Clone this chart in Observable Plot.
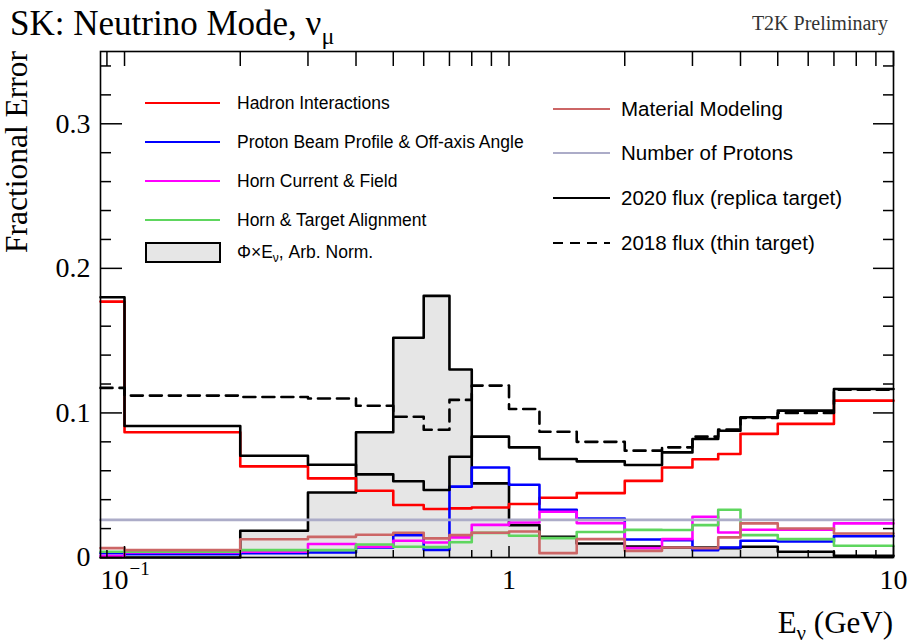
<!DOCTYPE html>
<html>
<head>
<meta charset="utf-8">
<script src="https://cdn.jsdelivr.net/npm/d3@7"></script>
<script src="https://cdn.jsdelivr.net/npm/@observablehq/plot@0.6"></script>
<style>
  html, body { margin: 0; padding: 0; background: #fff; }
  #chart svg { display: block; }
</style>
</head>
<body>
<div id="chart"></div>
<script>
// Neutrino energy bin edges (GeV); the first edge is the left end of the axis
const binEdges = [0.0866, 0.1, 0.2, 0.3, 0.4, 0.5, 0.6, 0.7, 0.8, 1.0, 1.2, 1.5, 2.0, 2.5, 3.0, 3.5, 4.0, 5.0, 7.0, 10.0];

// Fractional error per bin, one array per error source
const hadronInteractions = [0.177, 0.0866, 0.063, 0.0547, 0.0462, 0.0363, 0.0335, 0.034, 0.0346, 0.037, 0.0413, 0.0445, 0.053, 0.0623, 0.068, 0.0716, 0.0855, 0.0924, 0.1085];
const protonBeamProfile = [0.003, 0.0023, 0.003, 0.0035, 0.007, 0.0155, 0.0053, 0.049, 0.0623, 0.0503, 0.033, 0.027, 0.0125, 0.012, 0.0051, 0.0069, 0.0116, 0.0111, 0.0148];
const hornCurrentField = [0.001, 0.0035, 0.004, 0.0093, 0.0074, 0.0116, 0.0104, 0.0139, 0.0226, 0.0242, 0.0316, 0.0238, 0.0065, 0.0127, 0.0282, 0.0173, 0.0192, 0.0192, 0.0236];
const hornTargetAlignment = [0.004, 0.004, 0.0051, 0.0051, 0.009, 0.0074, 0.0072, 0.0105, 0.017, 0.015, 0.0134, 0.0176, 0.0191, 0.019, 0.0224, 0.033, 0.0155, 0.0127, 0.0081];
const materialModeling = [0.0065, 0.0051, 0.0126, 0.0143, 0.0157, 0.0171, 0.0132, 0.0155, 0.0171, 0.018, 0.003, 0.0127, 0.0046, 0.0069, 0.0065, 0.0139, 0.0236, 0.0201, 0.0166];
const numberOfProtons = [0.026, 0.026, 0.026, 0.026, 0.026, 0.026, 0.026, 0.026, 0.026, 0.026, 0.026, 0.026, 0.026, 0.026, 0.026, 0.026, 0.026, 0.026, 0.026];
const total2020 = [0.180, 0.091, 0.0704, 0.0642, 0.0575, 0.0527, 0.0467, 0.0697, 0.0836, 0.0762, 0.0681, 0.0665, 0.064, 0.0727, 0.082, 0.0877, 0.097, 0.1016, 0.1166];
const total2018 = [0.1173, 0.112, 0.111, 0.110, 0.105, 0.0974, 0.0884, 0.109, 0.1189, 0.1027, 0.087, 0.080, 0.0739, 0.0762, 0.0836, 0.0885, 0.0965, 0.100, 0.116];
// Flux times energy, arbitrary normalisation
const fluxTimesEnergy = [0, 0, 0.0185, 0.045, 0.0866, 0.152, 0.181, 0.130, 0.0513, 0.0224, 0.0143, 0.0097, 0.0076, 0.0069, 0.0069, 0.0065, 0.0074, 0.004, 0.0012];

// Axis ticks and labels
const yMajorTicks = [0, 0.1, 0.2, 0.3];
const yMinorTicks = [0.02, 0.04, 0.06, 0.08, 0.12, 0.14, 0.16, 0.18, 0.22, 0.24, 0.26, 0.28, 0.32, 0.34];
const yTickLabels = ["0", "0.1", "0.2", "0.3"];
const xMajorTicks = [0.1, 1, 10];
const xMinorTicks = [0.09, 0.2, 0.3, 0.4, 0.5, 0.6, 0.7, 0.8, 0.9, 2, 3, 4, 5, 6, 7, 8, 9];
const xTickBases = ["10", "1", "10"];
const xTickExponents = ["\u22121", "", ""];

const width = 913, height = 644;
const margin = {top: 51, right: 20, bottom: 87, left: 100};
const frameW = width - margin.left - margin.right;
const frameH = height - margin.top - margin.bottom;

// Histogram outline: one point per bin edge, the last bin's value repeated at the end
const stepPoints = (values) =>
  binEdges.map((e, i) => ({x: e, y: values[Math.min(i, values.length - 1)]}));

const errorSources = [
  {values: hadronInteractions, stroke: "#ff0000"},
  {values: protonBeamProfile, stroke: "#0000ff"},
  {values: hornCurrentField, stroke: "#ff00ff"},
  {values: hornTargetAlignment, stroke: "#5ed65e"},
  {values: materialModeling, stroke: "#cc6666"},
  {values: numberOfProtons, stroke: "#acacc8"}
];

const serif = "'Liberation Serif', 'Times New Roman', serif";
const sans = "'Liberation Sans', Arial, sans-serif";

// x tick labels: a base, plus an exponent where the label is a power of ten
const xLabelRows = xMajorTicks.map((v, i) => ({value: v, base: xTickBases[i], exponent: xTickExponents[i]}));
const plainLabels = xLabelRows.filter(d => !d.exponent);
const powerLabels = xLabelRows.filter(d => d.exponent);

const chart = Plot.plot({
  width, height,
  marginTop: margin.top, marginRight: margin.right,
  marginBottom: margin.bottom, marginLeft: margin.left,
  style: {fontFamily: serif, background: "#fff", color: "#000"},
  x: {type: "log", domain: [binEdges[0], 10], axis: null},
  y: {domain: [0, 0.35], axis: null},
  marks: [
    Plot.areaY(stepPoints(fluxTimesEnergy), {x: "x", y: "y", curve: "step-after", fill: "#e6e6e6"}),
    Plot.line(stepPoints(fluxTimesEnergy), {x: "x", y: "y", curve: "step-after", stroke: "#000", strokeWidth: 2.6}),
    ...errorSources.map(s =>
      Plot.line(stepPoints(s.values), {x: "x", y: "y", curve: "step-after", stroke: s.stroke, strokeWidth: 2.6})
    ),
    Plot.line(stepPoints(total2020), {x: "x", y: "y", curve: "step-after", stroke: "#000", strokeWidth: 2.6}),
    Plot.line(stepPoints(total2018), {x: "x", y: "y", curve: "step-after", stroke: "#000", strokeWidth: 2.6, strokeDasharray: "12,7"}),
    // ticks drawn inside the frame on all four sides
    Plot.tickY(yMajorTicks, {y: d => d, insetRight: frameW - 22, stroke: "#000", strokeWidth: 1.5}),
    Plot.tickY(yMinorTicks, {y: d => d, insetRight: frameW - 11, stroke: "#000", strokeWidth: 1.5}),
    Plot.tickY(yMajorTicks, {y: d => d, insetLeft: frameW - 20, stroke: "#000", strokeWidth: 1.5}),
    Plot.tickY(yMinorTicks, {y: d => d, insetLeft: frameW - 10, stroke: "#000", strokeWidth: 1.5}),
    Plot.tickX(xMajorTicks, {x: d => d, insetTop: frameH - 11, stroke: "#000", strokeWidth: 1.5}),
    Plot.tickX(xMinorTicks, {x: d => d, insetTop: frameH - 7, stroke: "#000", strokeWidth: 1.5}),
    Plot.tickX([...xMajorTicks, ...xMinorTicks], {x: d => d, insetBottom: frameH - 15, stroke: "#000", strokeWidth: 1.5}),
    Plot.frame({stroke: "#000", strokeWidth: 1.6}),
    // tick labels
    Plot.text(yMajorTicks, {y: d => d, text: (d, i) => yTickLabels[i], frameAnchor: "left", textAnchor: "end", dx: -10, fontSize: 28, fill: "#000"}),
    Plot.text(plainLabels, {x: "value", text: "base", frameAnchor: "bottom", textAnchor: "middle", dy: 31, fontSize: 28, fill: "#000"}),
    Plot.text(powerLabels, {x: "value", text: "base", frameAnchor: "bottom", textAnchor: "end", dx: 4, dy: 31, fontSize: 28, fill: "#000"}),
    Plot.text(powerLabels, {x: "value", text: "exponent", frameAnchor: "bottom", textAnchor: "start", dx: 5, dy: 17, fontSize: 19, fill: "#000"})
  ]
});

const svg = d3.select(chart);

// Titles
const title = svg.append("text").attr("x", 10).attr("y", 35).attr("text-anchor", "start")
  .attr("font-family", serif).attr("font-size", 35);
title.append("tspan").text("SK: Neutrino Mode, \u03bd");
title.append("tspan").attr("dy", 9).attr("font-size", 24).text("\u03bc");

svg.append("text").attr("x", 888).attr("y", 30).attr("text-anchor", "end")
  .attr("font-family", serif).attr("font-size", 20).attr("fill", "#333")
  .text("T2K Preliminary");

svg.append("text")
  .attr("transform", `translate(27, ${margin.top}) rotate(-90)`)
  .attr("text-anchor", "end")
  .attr("font-family", serif).attr("font-size", 31.5)
  .text("Fractional Error");

const xl = svg.append("text").attr("x", width - margin.right).attr("y", 633)
  .attr("text-anchor", "end").attr("font-family", serif).attr("font-size", 31);
xl.append("tspan").text("E");
xl.append("tspan").attr("dy", 7).attr("font-size", 21).text("\u03bd");
xl.append("tspan").attr("dy", -7).text(" (GeV)");

// Legend
const legend = svg.append("g").attr("font-family", sans).attr("text-anchor", "start");
const leftEntries = [
  {label: "Hadron Interactions", stroke: "#ff0000", y: 103},
  {label: "Proton Beam Profile & Off-axis Angle", stroke: "#0000ff", y: 142},
  {label: "Horn Current & Field", stroke: "#ff00ff", y: 181},
  {label: "Horn & Target Alignment", stroke: "#5ed65e", y: 220}
];
leftEntries.forEach(e => {
  legend.append("line").attr("x1", 145).attr("x2", 220).attr("y1", e.y).attr("y2", e.y)
    .attr("stroke", e.stroke).attr("stroke-width", 2);
  legend.append("text").attr("x", 237).attr("y", e.y).attr("dy", "0.36em")
    .attr("text-anchor", "start").attr("font-size", 17.5).text(e.label);
});
legend.append("rect").attr("x", 146).attr("y", 243).attr("width", 74).attr("height", 19)
  .attr("fill", "#e6e6e6").attr("stroke", "#000").attr("stroke-width", 2);
const fl = legend.append("text").attr("x", 237).attr("y", 252).attr("dy", "0.36em")
  .attr("text-anchor", "start").attr("font-size", 17.5);
fl.append("tspan").text("\u03a6\u00d7E");
fl.append("tspan").attr("dy", 4).attr("font-size", 12).text("\u03bd");
fl.append("tspan").attr("dy", -4).text(", Arb. Norm.");

const rightEntries = [
  {label: "Material Modeling", stroke: "#cc6666", y: 109},
  {label: "Number of Protons", stroke: "#acacc8", y: 153},
  {label: "2020 flux (replica target)", stroke: "#000", y: 198},
  {label: "2018 flux (thin target)", stroke: "#000", y: 243, dash: "10,7"}
];
rightEntries.forEach(e => {
  legend.append("line").attr("x1", 553).attr("x2", 610).attr("y1", e.y).attr("y2", e.y)
    .attr("stroke", e.stroke).attr("stroke-width", 2)
    .attr("stroke-dasharray", e.dash || null);
  legend.append("text").attr("x", 621).attr("y", e.y).attr("dy", "0.36em")
    .attr("text-anchor", "start").attr("font-size", 20.5).text(e.label);
});

document.getElementById("chart").appendChild(chart);
</script>
</body>
</html>
